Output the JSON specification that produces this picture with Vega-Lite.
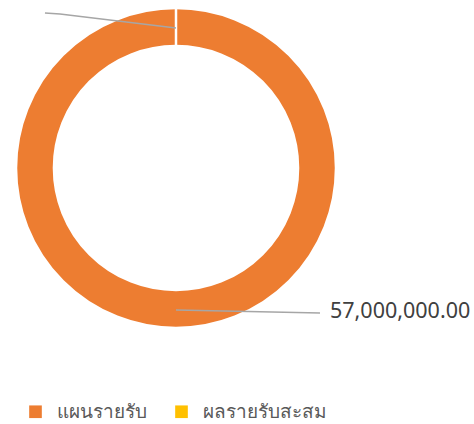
{
  "$schema": "https://vega.github.io/schema/vega-lite/v6.json",
  "width": 352,
  "height": 336,
  "padding": 0,
  "autosize": {"type": "pad"},
  "config": {"view": {"stroke": null}, "font": "Noto Sans"},
  "datasets": {
    "slices": [
      {"category": "แผนรายรับ", "value": 57000000, "idx": 1},
      {"category": "ผลรายรับสะสม", "value": 0, "idx": 2}
    ],
    "leaders": [
      {"line": "top", "step": 1, "x": 0, "y": 0.875},
      {"line": "top", "step": 2, "x": -0.725, "y": 0.9625},
      {"line": "top", "step": 3, "x": -0.819, "y": 0.969},
      {"line": "bottom", "step": 1, "x": 0, "y": -0.8875},
      {"line": "bottom", "step": 2, "x": 0.9, "y": -0.906}
    ],
    "labels": [
      {"x": 0.9625, "y": -0.9, "value": 57000000}
    ]
  },
  "layer": [
    {
      "data": {"name": "slices"},
      "mark": {"type": "arc", "outerRadius": 160, "innerRadius": 122, "stroke": "white", "strokeWidth": 2.5},
      "encoding": {
        "theta": {"field": "value", "type": "quantitative", "stack": true},
        "order": {"field": "idx", "type": "quantitative"},
        "color": {
          "field": "category",
          "type": "nominal",
          "scale": {"domain": ["แผนรายรับ", "ผลรายรับสะสม"], "range": ["#ED7D31", "#FFC000"]},
          "legend": {
            "orient": "none",
            "legendX": 26,
            "legendY": 402,
            "direction": "horizontal",
            "title": null,
            "symbolType": "square",
            "symbolSize": 160,
            "symbolStrokeWidth": 0,
            "labelFontSize": 19,
            "labelColor": "#595959",
            "columnPadding": 25,
            "labelOffset": 12,
            "labelLimit": 300
          }
        }
      }
    },
    {
      "data": {"name": "leaders"},
      "mark": {"type": "line", "color": "#A6A6A6", "strokeWidth": 1.5},
      "encoding": {
        "x": {"field": "x", "type": "quantitative", "scale": {"domain": [-1.1, 1.1], "nice": false, "zero": false}, "axis": null},
        "y": {"field": "y", "type": "quantitative", "scale": {"domain": [-1.05, 1.05], "nice": false, "zero": false}, "axis": null},
        "detail": {"field": "line", "type": "nominal"},
        "order": {"field": "step", "type": "quantitative"}
      }
    },
    {
      "data": {"name": "labels"},
      "mark": {"type": "text", "align": "left", "baseline": "middle", "fontSize": 21.5, "color": "#404040"},
      "encoding": {
        "x": {"field": "x", "type": "quantitative", "scale": {"domain": [-1.1, 1.1], "nice": false, "zero": false}, "axis": null},
        "y": {"field": "y", "type": "quantitative", "scale": {"domain": [-1.05, 1.05], "nice": false, "zero": false}, "axis": null},
        "text": {"field": "value", "type": "quantitative", "format": ",.2f"}
      }
    }
  ]
}
